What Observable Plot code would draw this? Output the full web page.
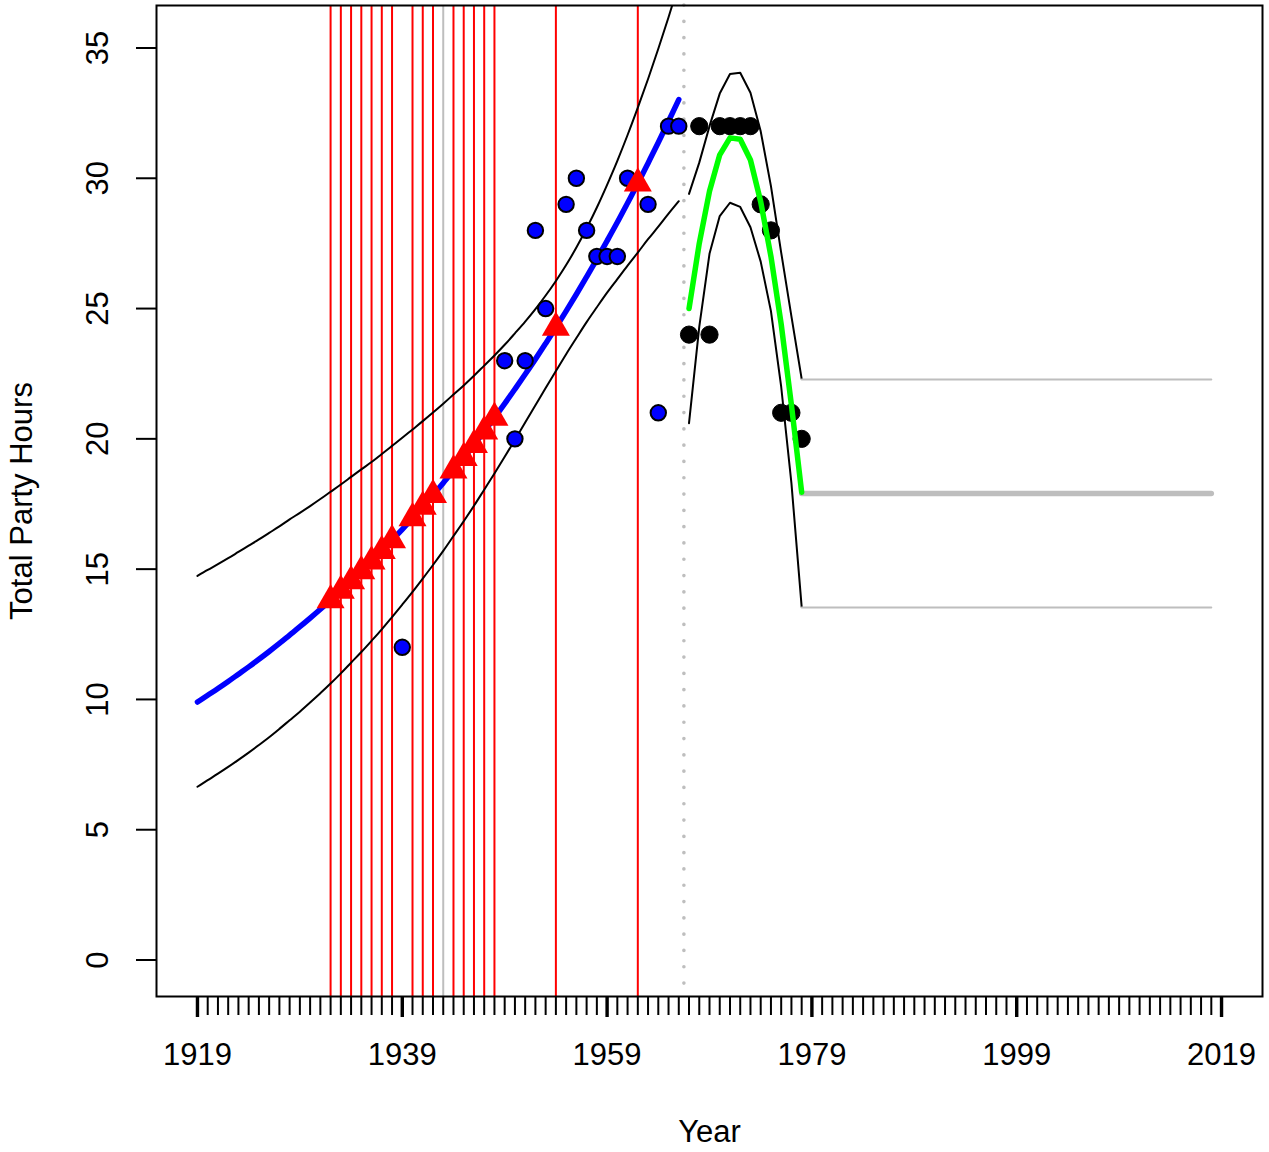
<!DOCTYPE html>
<html><head><meta charset="utf-8">
<script src="https://cdn.jsdelivr.net/npm/d3@7"></script>
<script src="https://cdn.jsdelivr.net/npm/@observablehq/plot@0.6"></script>
<style>html,body{margin:0;padding:0;background:#fff;} svg{display:block;}</style>
</head><body>
<script>
// ---- Data ----
// Fitted growth curve (blue) with its band (black), 1919-1966
const fitYears = [1919,1920,1921,1922,1923,1924,1925,1926,1927,1928,1929,1930,1931,1932,1933,1934,1935,1936,1937,1938,1939,1940,1941,1942,1943,1944,1945,1946,1947,1948,1949,1950,1951,1952,1953,1954,1955,1956,1957,1958,1959,1960,1961,1962,1963,1964,1965,1966];
const fitValues = [9.90,10.16,10.42,10.69,10.97,11.25,11.54,11.84,12.15,12.47,12.79,13.12,13.46,13.81,14.17,14.54,14.92,15.30,15.70,16.11,16.53,16.96,17.40,17.85,18.31,18.79,19.27,19.77,20.29,20.81,21.35,21.91,22.48,23.06,23.66,24.27,24.90,25.55,26.22,26.90,27.60,28.31,29.05,29.80,30.58,31.37,32.19,33.02];
const fitUpper = [14.74,14.97,15.19,15.42,15.66,15.90,16.14,16.39,16.64,16.91,17.16,17.42,17.69,17.97,18.25,18.54,18.83,19.11,19.42,19.73,20.04,20.36,20.68,21.01,21.35,21.70,22.05,22.42,22.81,23.20,23.61,24.05,24.50,24.98,25.50,26.06,26.67,27.34,28.08,28.88,29.75,30.67,31.66,32.71,33.81,34.97,36.18,37.45];
const fitLower = [6.65,6.90,7.15,7.41,7.68,7.96,8.25,8.55,8.87,9.20,9.53,9.88,10.24,10.61,11.00,11.41,11.82,12.25,12.69,13.16,13.64,14.13,14.64,15.16,15.70,16.27,16.84,17.43,18.05,18.67,19.31,19.96,20.63,21.29,21.95,22.60,23.25,23.87,24.48,25.05,25.61,26.13,26.65,27.15,27.66,28.14,28.64,29.12];

// Observed values (blue circles)
const obsYears = [1939,1949,1950,1951,1952,1953,1955,1956,1957,1958,1959,1960,1961,1963,1964,1965,1966];
const obsValues = [12,23,20,23,28,25,29,30,28,27,27,27,30,29,21,32,32];

// Imputed values (red triangles) and the red marker lines
const impYears = [1932,1933,1934,1935,1936,1937,1938,1940,1941,1942,1944,1945,1946,1947,1948,1954,1962];
const impValues = [13.81,14.17,14.54,14.92,15.30,15.70,16.11,16.96,17.40,17.85,18.79,19.27,19.77,20.29,20.81,24.27,29.80];
const greyLineYears = [1943];
const dividerYears = [1966.5];

// Second period (black points, green fit, black band)
const lateYears = [1967,1968,1969,1970,1971,1972,1973,1974,1975,1976,1977,1978];
const lateValues = [24,32,24,32,32,32,32,29,28,21,21,20];
const greenValues = [25.0,27.5,29.5,30.9,31.55,31.5,30.7,29.1,27.0,24.4,21.3,17.95];
const greenUpper = [29.4,30.6,32.0,33.25,34.0,34.05,33.28,31.8,29.7,27.15,24.7,22.3];
const greenLower = [20.6,24.3,27.1,28.55,29.06,28.9,28.12,26.8,24.9,22.0,18.3,13.55];

// Flat projection (grey)
const projYears = [1978,2018];
const projMid = [17.9,17.9];
const projUpper = [22.28,22.28];
const projLower = [13.53,13.53];

// Axes
const yTicks = [0,5,10,15,20,25,30,35];
const xMajor = [1919,1939,1959,1979,1999,2019];
const xMinor = d3.range(1919, 2020);

// ---- tables ----
const fitRows = fitYears.map((x,i)=>({x, fit: fitValues[i], upper: fitUpper[i], lower: fitLower[i]}));
const obsRows = obsYears.map((x,i)=>({x, y: obsValues[i]}));
const impRows = impYears.map((x,i)=>({x, y: impValues[i]}));
const lateRows = lateYears.map((x,i)=>({x, y: lateValues[i], fit: greenValues[i], upper: greenUpper[i], lower: greenLower[i]}));
const projRows = projYears.map((x,i)=>({x, mid: projMid[i], upper: projUpper[i], lower: projLower[i]}));

const font = "Liberation Sans, Arial, Helvetica, sans-serif";
const fs = 31;
const txt = {fontSize: fs, fontFamily: font, fill: "black", textAnchor: "middle", lineAnchor: "middle"};

const chart = Plot.plot({
  width: 1269, height: 1152,
  marginLeft: 156, marginRight: 7, marginTop: 5, marginBottom: 156,
  x: {domain: [1915, 2023], label: null},
  y: {domain: [-1.40, 36.63], label: null},
  style: {background: "white", fontFamily: font, fontSize: "31px", color: "black", overflow: "visible"},
  marks: [
    Plot.ruleX(impYears, {x: d => d, stroke: "#ff0000", strokeWidth: 2}),
    Plot.ruleX(greyLineYears, {x: d => d, stroke: "#bebebe", strokeWidth: 2}),
    Plot.ruleX(dividerYears, {x: d => d, stroke: "#bebebe", strokeWidth: 3.6, strokeDasharray: "0.1,16.2", strokeLinecap: "round"}),
    Plot.line(fitRows, {x: "x", y: "upper", stroke: "black", strokeWidth: 2, curve: "monotone-x", clip: true}),
    Plot.line(fitRows, {x: "x", y: "lower", stroke: "black", strokeWidth: 2, curve: "monotone-x", clip: true}),
    Plot.line(lateRows, {x: "x", y: "upper", stroke: "black", strokeWidth: 2, clip: true}),
    Plot.line(lateRows, {x: "x", y: "lower", stroke: "black", strokeWidth: 2, clip: true}),
    Plot.line(projRows, {x: "x", y: "upper", stroke: "#bebebe", strokeWidth: 2}),
    Plot.line(projRows, {x: "x", y: "lower", stroke: "#bebebe", strokeWidth: 2}),
    Plot.line(projRows, {x: "x", y: "mid", stroke: "#bebebe", strokeWidth: 5.5}),
    Plot.line(fitRows, {x: "x", y: "fit", stroke: "#0000ff", strokeWidth: 5.5, curve: "monotone-x"}),
    Plot.dot(obsRows, {x: "x", y: "y", r: 7.7, fill: "#0000ff", stroke: "black", strokeWidth: 2}),
    Plot.dot(impRows, {x: "x", y: "y", symbol: "triangle", r: 10.4, fill: "#ff0000", stroke: "none"}),
    Plot.dot(lateRows, {x: "x", y: "y", r: 8.6, fill: "black", stroke: "black", strokeWidth: 1}),
    Plot.line(lateRows, {x: "x", y: "fit", stroke: "#00ff00", strokeWidth: 5.5}),
    Plot.frame({stroke: "black", strokeWidth: 2}),
    Plot.axisY(yTicks, {tickSize: 20, tickFormat: () => "", strokeWidth: 2, label: null}),
    Plot.axisX(xMinor, {tickSize: 19, tickFormat: () => "", strokeWidth: 2, label: null}),
    Plot.axisX(xMajor, {tickSize: 21, tickFormat: () => "", strokeWidth: 3.4, label: null}),
    Plot.text(yTicks, {y: d => d, text: d => String(d), frameAnchor: "left", dx: -58, rotate: -90, ...txt}),
    Plot.text(xMajor, {x: d => d, text: d => String(d), frameAnchor: "bottom", dy: 59, ...txt}),
    Plot.text(["Total Party Hours"], {text: d => d, frameAnchor: "left", dx: -134, rotate: -90, ...txt}),
    Plot.text(["Year"], {text: d => d, frameAnchor: "bottom", dy: 136, ...txt})
  ]
});
document.body.append(chart);
</script>
</body></html>
